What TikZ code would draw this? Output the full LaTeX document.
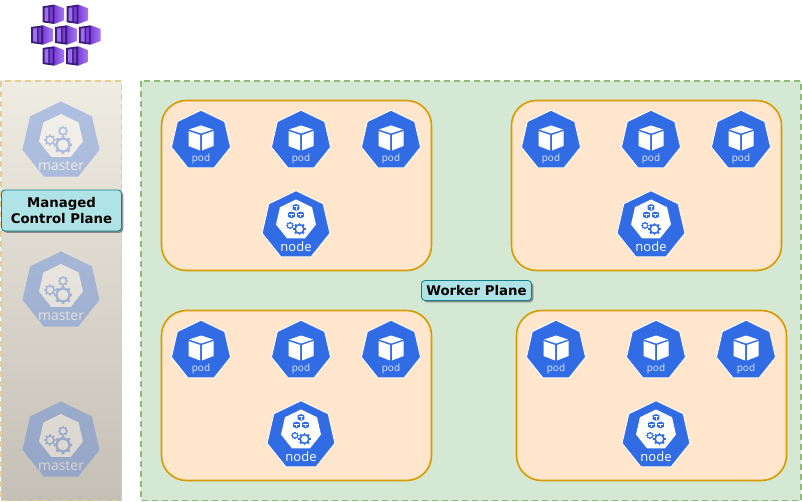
\documentclass[tikz,border=0pt]{standalone}
\usepackage{fontspec}
\setmainfont{DejaVu Sans}
\newfontfamily\iconfont{Open Sans}
\usetikzlibrary{shapes.geometric,shadows}
\definecolor{kubeblue}{HTML}{326CE5}
\definecolor{paneltop}{HTML}{EFECE2}
\definecolor{panelmid}{HTML}{DAD6CB}
\definecolor{panelbot}{HTML}{C5C0B5}
\definecolor{panelline}{HTML}{E3CE96}
\definecolor{workerfill}{HTML}{D5E8D4}
\definecolor{workerline}{HTML}{8FBB76}
\definecolor{groupfill}{HTML}{FFE6CC}
\definecolor{groupline}{HTML}{D79B00}
\definecolor{labelfill}{HTML}{B0E3E6}
\definecolor{labelline}{HTML}{0E8088}
\definecolor{cubedark}{HTML}{3B1C78}
\definecolor{cubemid}{HTML}{7A3FD9}
\definecolor{cubelight}{HTML}{A77BF3}
\newcommand{\gearicon}[4]{
  \foreach \a in {0,45,...,315}
    \draw[#4,line width=#3*0.42pt] ([shift={(#1,#2)}]\a:#3) -- ([shift={(#1,#2)}]\a:#3*1.42);
  \draw[#4,fill=white,line width=#3*0.36pt] (#1,#2) circle [radius=#3];
}
\newcommand{\boxicon}[3]{
  \fill[kubeblue] (#1,#2) ++(0,-#3) -- ++(#3,#3*0.36) -- ++(0,#3*1.2) -- ++(-#3,#3*0.4) -- ++(-#3,-#3*0.4) -- ++(0,-#3*1.2) -- cycle;
  \draw[white,line width=.5pt] (#1,#2) ++(-#3*0.6,-#3*0.25) -- ++(#3*1.2,0);
  \draw[white,line width=.5pt] (#1,#2) ++(0,-#3*0.25) -- ++(0,#3*0.95);
}
\tikzset{
  hept/.style={regular polygon,regular polygon sides=7,inner sep=0pt,outer sep=0pt},
  panelbox/.style={dash pattern=on 6pt off 4pt,line width=1.3pt},
  groupbox/.style={draw=groupline,fill=groupfill,line width=1.6pt,rounded corners=25pt},
  planelabel/.style={draw=labelline,fill=labelfill,rounded corners=3.5pt,line width=.8pt,align=center,
    font=\fontsize{13.3}{16}\selectfont\bfseries,inner sep=0pt,text=black,
    drop shadow={shadow xshift=1.8pt,shadow yshift=-1.8pt,fill=black!60,opacity=.7}},
  pod/.pic={
    \node[hept,fill=kubeblue,draw=white,line width=.8pt,minimum size=60.5pt] (-hept) at (0,0) {};
    \fill[white] (0,-15) -- (12,-11) -- (0,-7) -- (-12,-11) -- cycle;
    \fill[white] (-12.5,-9.5) -- (-1,-5.5) -- (-1,10) -- (-12.5,5.5) -- cycle;
    \fill[white] (12.5,-9.5) -- (1,-5.5) -- (1,10) -- (12.5,5.5) -- cycle;
    \node[text=white!85!kubeblue,font=\iconfont\fontsize{10}{11}\selectfont,inner sep=0pt] (-label) at (0,18) {pod};
  },
  knode/.pic={
    \node[hept,fill=kubeblue,draw=white,line width=.8pt,minimum size=69.5pt] (-hept) at (0,0) {};
    \node[hept,fill=white,minimum size=41pt] (-core) at (0,-5.5) {};
    \boxicon{0}{-18}{3.4}
    \boxicon{-4.5}{-10.5}{3.4}
    \boxicon{4.5}{-10.5}{3.4}
    \gearicon{-6}{0}{2.6}{kubeblue}
    \gearicon{3.5}{3.5}{4.4}{kubeblue}
    \node[text=white,font=\iconfont\fontsize{13}{14}\selectfont,inner sep=0pt] (-label) at (0,21.5) {node};
  },
  master/.pic={
    \begin{scope}[transparency group,opacity=.33]
    \node[hept,fill=kubeblue,minimum size=79pt] (-hept) at (0,0) {};
    \node[hept,fill=white,minimum size=45pt] (-core) at (0,-4.5) {};
    \gearicon{2}{4}{6.5}{kubeblue}
    \gearicon{-11}{-1}{4}{kubeblue}
    \gearicon{2}{-10}{3.5}{kubeblue}
    \node[text=white,font=\iconfont\fontsize{14}{15}\selectfont,inner sep=0pt] (-label) at (0,25) {master};
    \end{scope}
  },
  contcube/.pic={
    \shade[left color=cubemid,right color=cubelight] (1,-9.7) -- (10.8,-6) -- (10.8,6) -- (1,9.7) -- cycle;
    \fill[cubedark] (-10.8,-8) -- (1,-9.7) -- (1,9.7) -- (-10.8,8) -- cycle;
    \fill[cubelight!80!cubemid] (-8.8,-6.4) -- (-5,-6.9) -- (-5,6.9) -- (-8.8,6.4) -- cycle;
    \fill[cubemid] (-3.5,-7.1) -- (-.8,-7.4) -- (-.8,7.4) -- (-3.5,7.1) -- cycle;
  },
}
\begin{document}
\begin{tikzpicture}[x=1pt,y=-1pt]
\useasboundingbox (0,0) rectangle (802,502);

\pic at (53.3,14.3) {contcube};
\pic at (77.3,14.3) {contcube};
\pic at (42,35) {contcube};
\pic at (66,35) {contcube};
\pic at (89.7,35) {contcube};
\pic at (53.3,56) {contcube};
\pic at (77,56) {contcube};

\shade[top color=paneltop,middle color=panelmid,bottom color=panelbot] (1,81) rectangle (121.5,500.5);
\draw[panelbox,draw=panelline] (1,81) rectangle (121.5,500.5);
\draw[panelbox,draw=workerline,fill=workerfill] (141,81) rectangle (801,500.5);

\pic at (61,141) {master};
\pic at (61,291) {master};
\pic at (61,441) {master};
\node[planelabel,minimum width=120pt,minimum height=41pt] (managed) at (61.5,210.5) {Managed\\Control Plane};

\draw[groupbox] (161.5,100.5) rectangle (431.5,270.5);
\draw[groupbox] (511.5,100.5) rectangle (781.5,270.5);
\draw[groupbox] (161.5,310.5) rectangle (431.5,480.5);
\draw[groupbox] (516.5,310.5) rectangle (786.5,480.5);

\node[planelabel,minimum width=110pt,minimum height=20pt] (worker) at (476.5,290.5) {Worker Plane};

\pic (poda) at (201,140.5) {pod};
\pic (podb) at (301,140.5) {pod};
\pic (podc) at (391,140.5) {pod};
\pic (noda) at (296,225.5) {knode};

\pic (podd) at (551,140.5) {pod};
\pic (pode) at (651,140.5) {pod};
\pic (podf) at (741,140.5) {pod};
\pic (nodb) at (651,225.5) {knode};

\pic (podg) at (201,350.5) {pod};
\pic (podh) at (301,350.5) {pod};
\pic (podi) at (391,350.5) {pod};
\pic (nodc) at (301,435.5) {knode};

\pic (podj) at (556,350.5) {pod};
\pic (podk) at (656,350.5) {pod};
\pic (podl) at (746,350.5) {pod};
\pic (nodd) at (656,435.5) {knode};
\end{tikzpicture}
\end{document}
